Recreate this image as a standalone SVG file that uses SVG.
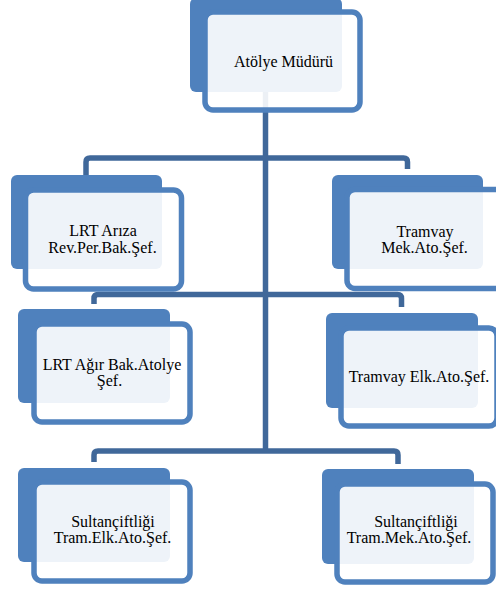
<svg xmlns="http://www.w3.org/2000/svg" width="496" height="589" viewBox="0 0 496 589">
  <style>
    .link { fill: none; stroke: #40689A; stroke-width: 5.5; stroke-linejoin: round; }
    .back { fill: #4F81BD; }
    .front { fill: #FFFFFF; fill-opacity: 0.9; stroke: #4F81BD; stroke-width: 5.5; }
    text { font-family: 'Liberation Serif', 'Times New Roman', serif; font-size: 16px; fill: #000000; text-anchor: middle; }
  </style>
  <rect width="496" height="589" fill="#FFFFFF"/>

  <!-- connectors: trunk and three branch bars -->
  <g id="connectors">
    <path class="link" d="M265.5,92 V451"/>
    <path class="link" d="M86,176 V162 Q86,158 90,158 H403.5 Q407.5,158 407.5,162 V169"/>
    <path class="link" d="M94,304 V298.5 Q94,294.5 98,294.5 H397.5 Q401.5,294.5 401.5,298.5 V307"/>
    <path class="link" d="M94,462 V455 Q94,451 98,451 H394 Q398,451 398,455 V464"/>
  </g>

  <g id="node-mudur">
    <rect class="back" x="190" y="-2" width="152" height="94" rx="6"/>
    <rect class="front" x="205" y="12" width="155" height="98" rx="8"/>
    <text x="283.5" y="67">Atölye Müdürü</text>
  </g>

  <g id="node-lrt-ariza">
    <rect class="back" x="11" y="175" width="151" height="94" rx="6"/>
    <rect class="front" x="25.5" y="190" width="156" height="99" rx="8"/>
    <text x="103" y="236">LRT Arıza</text>
    <text x="102.5" y="253">Rev.Per.Bak.Şef.</text>
  </g>

  <g id="node-tramvay-mek">
    <rect class="back" x="332" y="175" width="151" height="94" rx="6"/>
    <rect class="front" x="347" y="189.5" width="156" height="99" rx="8"/>
    <text x="425" y="237">Tramvay</text>
    <text x="424.5" y="253">Mek.Ato.Şef.</text>
  </g>

  <g id="node-lrt-agir">
    <rect class="back" x="18" y="309" width="152" height="94" rx="6"/>
    <rect class="front" x="34" y="324" width="156" height="98" rx="8"/>
    <text x="112" y="370">LRT Ağır Bak.Atolye</text>
    <text x="109.5" y="386">Şef.</text>
  </g>

  <g id="node-tramvay-elk">
    <rect class="back" x="326" y="313" width="152" height="95" rx="6"/>
    <rect class="front" x="341" y="328" width="156" height="98" rx="8"/>
    <text x="419" y="382">Tramvay Elk.Ato.Şef.</text>
  </g>

  <g id="node-sultanciftligi-elk">
    <rect class="back" x="18" y="468" width="152" height="94" rx="6"/>
    <rect class="front" x="34" y="482" width="156" height="99" rx="8"/>
    <text x="113" y="527">Sultançiftliği</text>
    <text x="112.5" y="543">Tram.Elk.Ato.Şef.</text>
  </g>

  <g id="node-sultanciftligi-mek">
    <rect class="back" x="322" y="469" width="152" height="95" rx="6"/>
    <rect class="front" x="337" y="484" width="156" height="98" rx="8"/>
    <text x="416" y="527">Sultançiftliği</text>
    <text x="409" y="543">Tram.Mek.Ato.Şef.</text>
  </g>
</svg>
